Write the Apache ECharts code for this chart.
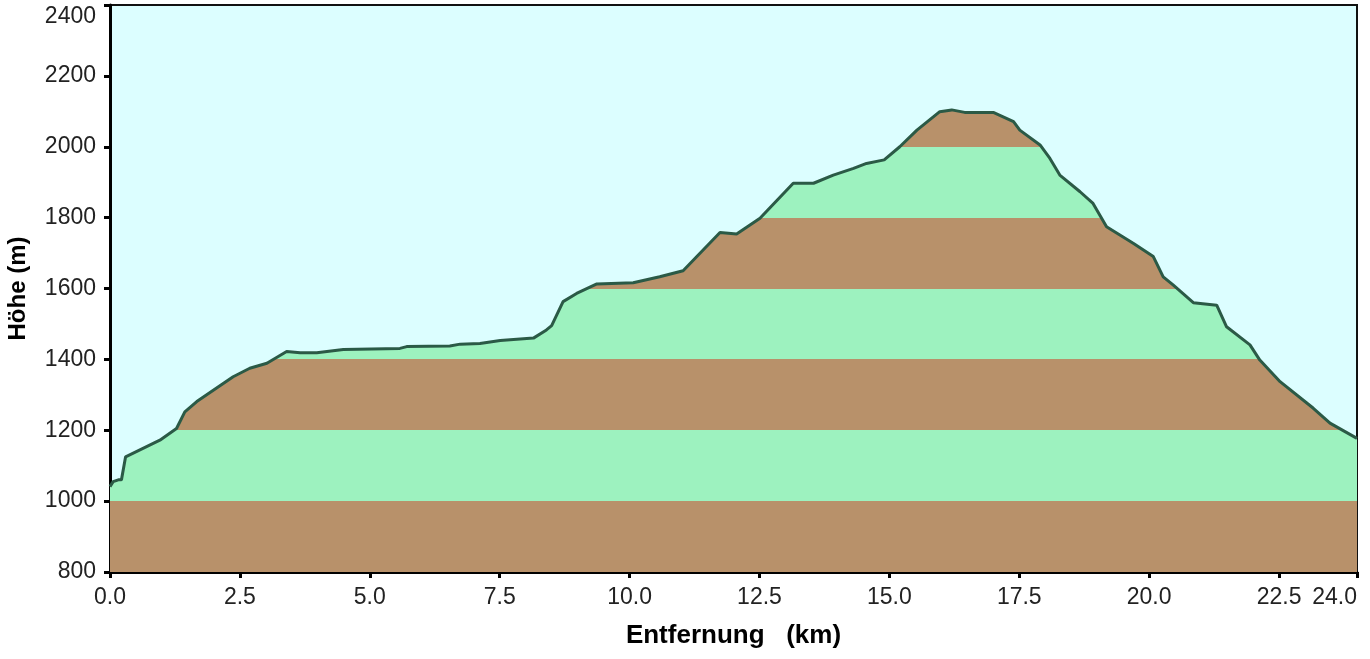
<!DOCTYPE html>
<html>
<head>
<meta charset="utf-8">
<script src="https://cdn.jsdelivr.net/npm/echarts@6/dist/echarts.min.js"></script>
<style>
html,body{margin:0;padding:0;background:#ffffff;}
#chart{width:1370px;height:659px;}
</style>
</head>
<body>
<div id="chart"></div>
<script>
// distance (km)
var distance = [0.00,0.06,0.16,0.22,0.30,0.96,1.28,1.44,1.67,2.37,2.69,3.02,3.40,3.66,3.98,4.49,5.58,5.71,6.54,6.74,7.12,7.51,8.15,8.40,8.50,8.72,8.98,9.37,10.07,10.58,11.03,11.74,12.06,12.51,13.15,13.54,13.92,14.31,14.56,14.90,15.20,15.53,15.97,16.20,16.45,17.00,17.39,17.51,17.90,18.09,18.28,18.67,18.92,19.18,19.70,20.08,20.27,20.46,20.85,21.30,21.49,21.94,22.13,22.52,23.16,23.48,24.00];
// elevation (m)
var elevation = [1041,1055,1060,1060,1125,1172,1205,1252,1281,1351,1375,1389,1422,1419,1419,1428,1431,1436,1438,1443,1445,1453,1460,1483,1495,1563,1586,1613,1616,1633,1650,1758,1754,1798,1897,1897,1920,1939,1953,1963,2000,2047,2099,2104,2097,2097,2071,2047,2005,1967,1920,1873,1840,1774,1727,1690,1633,1610,1560,1553,1492,1441,1398,1337,1262,1220,1177];
var yTicks = [800,1000,1200,1400,1600,1800,2000,2200,2400];
var bandEdges = [1000,1200,1400,1600,1800,2000,2200];

var BROWN = '#b8916a', GREEN = '#9df2bf';
var yMin = 800;
var maxV = Math.max.apply(null, elevation);
function bandColor(v){ return (Math.floor((v - yMin) / 200) % 2 === 0) ? BROWN : GREEN; }
var stops = [];
var edgesDesc = bandEdges.slice().sort(function(a,b){return b-a;}).filter(function(b){return b < maxV;});
stops.push({offset:0, color: bandColor(maxV - 1)});
edgesDesc.forEach(function(b){
  var off = (maxV - b) / (maxV - yMin);
  stops.push({offset:off, color: bandColor(b + 1)});
  stops.push({offset:off, color: bandColor(b - 1)});
});
stops.push({offset:1, color: bandColor(yMin + 1)});

var data = distance.map(function(d,i){ return [d, elevation[i]]; });

var chart = echarts.init(document.getElementById('chart'));
chart.setOption({
  animation: false,
  grid: {left:110, right:13, top:5, bottom:87, show:true, backgroundColor:'#dcfeff', borderColor:'#111', borderWidth:2, containLabel:false, outerBoundsMode:'none'},
  xAxis: {
    type:'value', min:0, max:24, interval:2.5,
    name:'Entfernung   (km)', nameLocation:'middle', nameGap:51,
    nameTextStyle:{fontFamily:'Liberation Sans, Arial, sans-serif', fontWeight:'bold', fontSize:26, color:'#000'},
    axisLine:{show:true, lineStyle:{color:'#000', width:3}},
    axisTick:{show:true, length:6, lineStyle:{color:'#000', width:3}},
    axisLabel:{margin:14, fontFamily:'Liberation Sans, Arial, sans-serif', fontSize:23, color:'#222',
      alignMaxLabel:'right', formatter:function(v){return v.toFixed(1);}},
    splitLine:{show:false}
  },
  yAxis: {
    type:'value', min:yTicks[0], max:yTicks[yTicks.length-1], interval:200,
    name:'Höhe (m)', nameLocation:'middle', nameGap:80, nameRotate:90,
    nameTextStyle:{fontFamily:'Liberation Sans, Arial, sans-serif', fontWeight:'bold', fontSize:24, color:'#000'},
    axisLine:{show:true, lineStyle:{color:'#000', width:3}},
    axisTick:{show:true, length:6, lineStyle:{color:'#000', width:3}},
    axisLabel:{margin:14, fontFamily:'Liberation Sans, Arial, sans-serif', fontSize:23, color:'#222', verticalAlignMaxLabel:'top',
      formatter:function(v){return String(v);}},
    splitLine:{show:false}
  },
  series: [{
    type:'line', data:data, showSymbol:false, symbol:'none',
    lineStyle:{color:'#2b5a46', width:3},
    areaStyle:{origin:'start', opacity:1, color:new echarts.graphic.LinearGradient(0,0,0,1,stops)}
  }]
});
</script>
</body>
</html>
